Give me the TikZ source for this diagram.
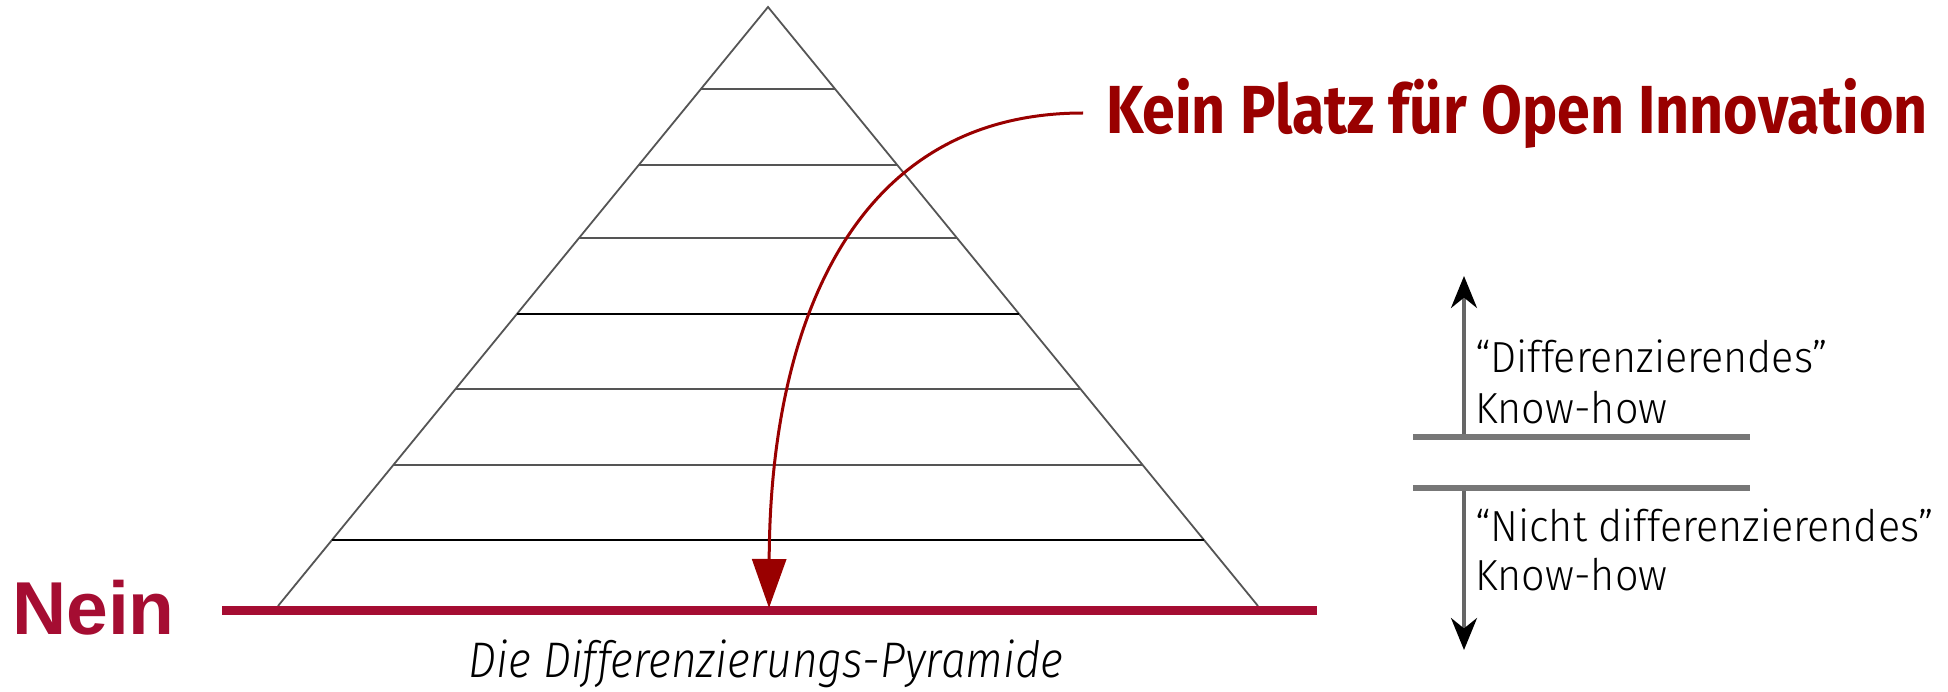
\documentclass[tikz,border=0pt]{standalone}
\usepackage{fontspec}
\usetikzlibrary{arrows.meta,calc}
\setmainfont{Fira Sans}
\newfontfamily\titlefont[FakeStretch=0.87]{Fira Sans}
\newfontfamily\lightfont[FakeStretch=0.95,UprightFont={* Light},ItalicFont={* Light Italic}]{Fira Sans}
\newfontfamily\capfont[FakeStretch=0.885,UprightFont={* Light},ItalicFont={* Light Italic}]{Fira Sans}
\newfontfamily\neinfont{Liberation Sans}
\definecolor{darkred}{HTML}{990000}
\definecolor{crimson}{HTML}{A50D32}
\definecolor{pyrgray}{HTML}{555555}
\definecolor{bargray}{HTML}{777777}
\definecolor{shaftgray}{HTML}{666666}
\begin{document}
\begin{tikzpicture}[x=1pt,y=-1pt,
  pyrline/.style={draw=pyrgray,line width=1.8pt},
  thinline/.style={draw=black,line width=1.2pt},
  baseline/.style={draw=crimson,line width=9.5pt},
  redarrow/.style={draw=darkred,line width=3pt,-{Triangle[length=49pt,width=34pt,fill=darkred]}},
  grayline/.style={draw=bargray,line width=5.5pt},
  grayarrow/.style={draw=shaftgray,line width=3.6pt,-{Stealth[length=32pt,width=26pt,black]}},
  txt/.style={inner sep=0pt,anchor=base west},
  ]
\useasboundingbox (0,0) rectangle (1948,692);
% pyramid
\coordinate (apex) at (768,7);
\coordinate (bl) at (278,606);
\coordinate (br) at (1258,606);
\draw[pyrline,line join=miter] (bl) -- (apex) -- (br);
\foreach \f/\s in {0.1369/pyrline,0.2638/pyrline,0.3856/pyrline,0.5125/thinline,0.6377/pyrline,0.7646/pyrline,0.8898/thinline}{
  \draw[\s] ($(apex)!\f!(bl)$) -- ($(apex)!\f!(br)$);
}
% red base line
\coordinate (redL) at (222,610.5);
\coordinate (redR) at (1317,610.5);
\draw[baseline] (redL) -- (redR);
% texts
\node[txt,font=\titlefont\bfseries\fontsize{68}{80}\selectfont,text=darkred] (title) at (1106,134) {Kein Platz für Open Innovation};
\node[txt,font=\neinfont\bfseries\fontsize{75}{85}\selectfont,text=crimson] (nein) at (12,634) {Nein};
\node[inner sep=0pt,anchor=base,font=\capfont\itshape\fontsize{50}{58}\selectfont] (caption) at (766,677) {Die Differenzierungs-Pyramide};
% curved arrow
\coordinate (kstart) at (1083,113);
\coordinate (tip) at (769,608);
\draw[redarrow] (kstart) .. controls (850,113) and (770,330) .. (tip);
% right side
\coordinate (g1L) at (1413,437);
\coordinate (g1R) at (1750,437);
\coordinate (g2L) at (1413,488);
\coordinate (g2R) at (1750,488);
\draw[grayline] (g1L) -- (g1R);
\draw[grayline] (g2L) -- (g2R);
\coordinate (upS) at (1464,434);
\coordinate (upE) at (1464,276);
\coordinate (dnS) at (1464,491);
\coordinate (dnE) at (1464,650);
\draw[grayarrow] (upS) -- (upE);
\draw[grayarrow] (dnS) -- (dnE);
\node[txt,font=\lightfont\fontsize{43.5}{50}\selectfont] (l1) at (1475,373) {“Differenzierendes”};
\node[txt,font=\lightfont\fontsize{43.5}{50}\selectfont] (l2) at (1475,423) {Know-how};
\node[txt,font=\lightfont\fontsize{43.5}{50}\selectfont] (l3) at (1475,541) {“Nicht differenzierendes”};
\node[txt,font=\lightfont\fontsize{43.5}{50}\selectfont] (l4) at (1475,590) {Know-how};
\end{tikzpicture}
\end{document}
